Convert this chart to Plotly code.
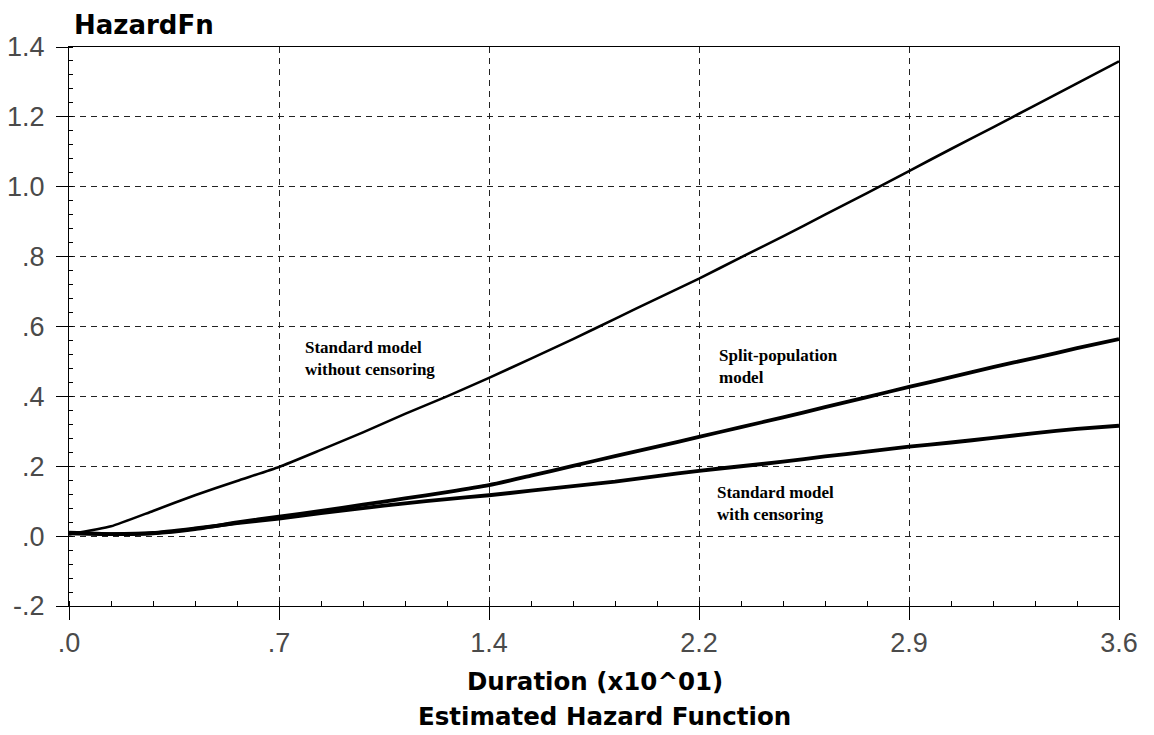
import plotly.graph_objects as go

# Duration (x10^01)
duration = [0.0, 0.144, 0.288, 0.432, 0.576, 0.72, 0.864, 1.008, 1.152, 1.296, 1.44,
            1.584, 1.728, 1.872, 2.016, 2.16, 2.304, 2.448, 2.592, 2.736, 2.88,
            3.024, 3.168, 3.312, 3.456, 3.6]

hazard_no_censoring = [0.005, 0.028, 0.072, 0.117, 0.158, 0.198, 0.247, 0.297, 0.35, 0.4, 0.453,
                       0.508, 0.564, 0.622, 0.68, 0.737, 0.798, 0.858, 0.92, 0.982, 1.045,
                       1.108, 1.17, 1.233, 1.296, 1.359]

hazard_split_pop = [0.01, 0.006, 0.008, 0.02, 0.039, 0.056, 0.072, 0.09, 0.108, 0.126, 0.146,
                    0.173, 0.201, 0.229, 0.256, 0.284, 0.312, 0.34, 0.369, 0.398, 0.427,
                    0.455, 0.484, 0.51, 0.538, 0.564]

hazard_censoring = [0.008, 0.006, 0.009, 0.022, 0.037, 0.05, 0.066, 0.08, 0.094, 0.106, 0.117,
                    0.13, 0.143, 0.156, 0.172, 0.187, 0.2, 0.213, 0.228, 0.242, 0.256,
                    0.268, 0.281, 0.295, 0.307, 0.316]

x_tickvals = [0.0, 0.72, 1.44, 2.16, 2.88, 3.6]
x_ticktext = [".0", ".7", "1.4", "2.2", "2.9", "3.6"]
y_tickvals = [-0.2, 0.0, 0.2, 0.4, 0.6, 0.8, 1.0, 1.2, 1.4]
y_ticktext = ["-.2", ".0", ".2", ".4", ".6", ".8", "1.0", "1.2", "1.4"]

fig = go.Figure()
fig.add_trace(go.Scatter(x=duration, y=hazard_no_censoring, mode="lines",
                         line=dict(color="black", width=2.6, shape="spline", smoothing=0.5),
                         showlegend=False))
fig.add_trace(go.Scatter(x=duration, y=hazard_split_pop, mode="lines",
                         line=dict(color="black", width=3.8, shape="spline", smoothing=0.5),
                         showlegend=False))
fig.add_trace(go.Scatter(x=duration, y=hazard_censoring, mode="lines",
                         line=dict(color="black", width=3.8, shape="spline", smoothing=0.5),
                         showlegend=False))

tick_font = dict(family="Liberation Sans, Arial, sans-serif", size=27, color="#4a4a4a")
grid_style = dict(showgrid=True, gridcolor="#222", gridwidth=1, griddash="6px,5px")

fig.update_xaxes(range=[0, 3.6], tickmode="array", tickvals=x_tickvals, ticktext=x_ticktext,
                 ticks="outside", ticklen=13, tickcolor="black", tickwidth=1,
                 showline=True, linecolor="black", linewidth=1, mirror=True,
                 zeroline=False, tickfont=tick_font, automargin=False,
                 minor=dict(ticks="inside", ticklen=5, tickcolor="black", dtick=0.144,
                            tick0=0, showgrid=False),
                 **grid_style)
fig.update_yaxes(range=[-0.2, 1.4], tickmode="array", tickvals=y_tickvals, ticktext=y_ticktext,
                 ticks="outside", ticklen=12, tickcolor="black", tickwidth=1,
                 showline=True, linecolor="black", linewidth=1, mirror=True,
                 zeroline=False, tickfont=tick_font, ticklabelstandoff=6, automargin=False,
                 minor=dict(ticks="inside", ticklen=4, tickcolor="black", dtick=0.04,
                            tick0=0, showgrid=False),
                 **grid_style)

label_font = dict(family="Liberation Serif, Times New Roman, serif", size=17, color="black")
title_font = dict(family="DejaVu Sans, sans-serif", size=24.5, color="black")

annotations = [
    dict(x=0.802, y=0.508, xref="x", yref="y", text="<b>Standard model<br>without censoring</b>",
         xanchor="left", yanchor="middle", align="left", showarrow=False, font=label_font),
    dict(x=2.222, y=0.486, xref="x", yref="y", text="<b>Split-population<br>model</b>",
         xanchor="left", yanchor="middle", align="left", showarrow=False, font=label_font),
    dict(x=2.215, y=0.092, xref="x", yref="y", text="<b>Standard model<br>with censoring</b>",
         xanchor="left", yanchor="middle", align="left", showarrow=False, font=label_font),
    dict(x=0, y=1.0394, xref="paper", yref="paper", xshift=3, text="<b>HazardFn</b>",
         xanchor="left", yanchor="middle", showarrow=False,
         font=dict(family="DejaVu Sans, sans-serif", size=26, color="black")),
    dict(x=0.5, y=(606 - 681) / 559, xref="paper", yref="paper", xshift=1,
         text="<b>Duration (x10^01)</b>", xanchor="center", yanchor="middle",
         showarrow=False, font=title_font),
    dict(x=0.5, y=(606 - 716) / 559, xref="paper", yref="paper", xshift=10,
         text="<b>Estimated Hazard Function</b>", xanchor="center", yanchor="middle",
         showarrow=False, font=title_font),
]

fig.update_layout(width=1154, height=735, autosize=False,
                  margin=dict(l=69, r=35, t=47, b=129),
                  paper_bgcolor="white", plot_bgcolor="white",
                  annotations=annotations)

fig.write_html("out.html")
